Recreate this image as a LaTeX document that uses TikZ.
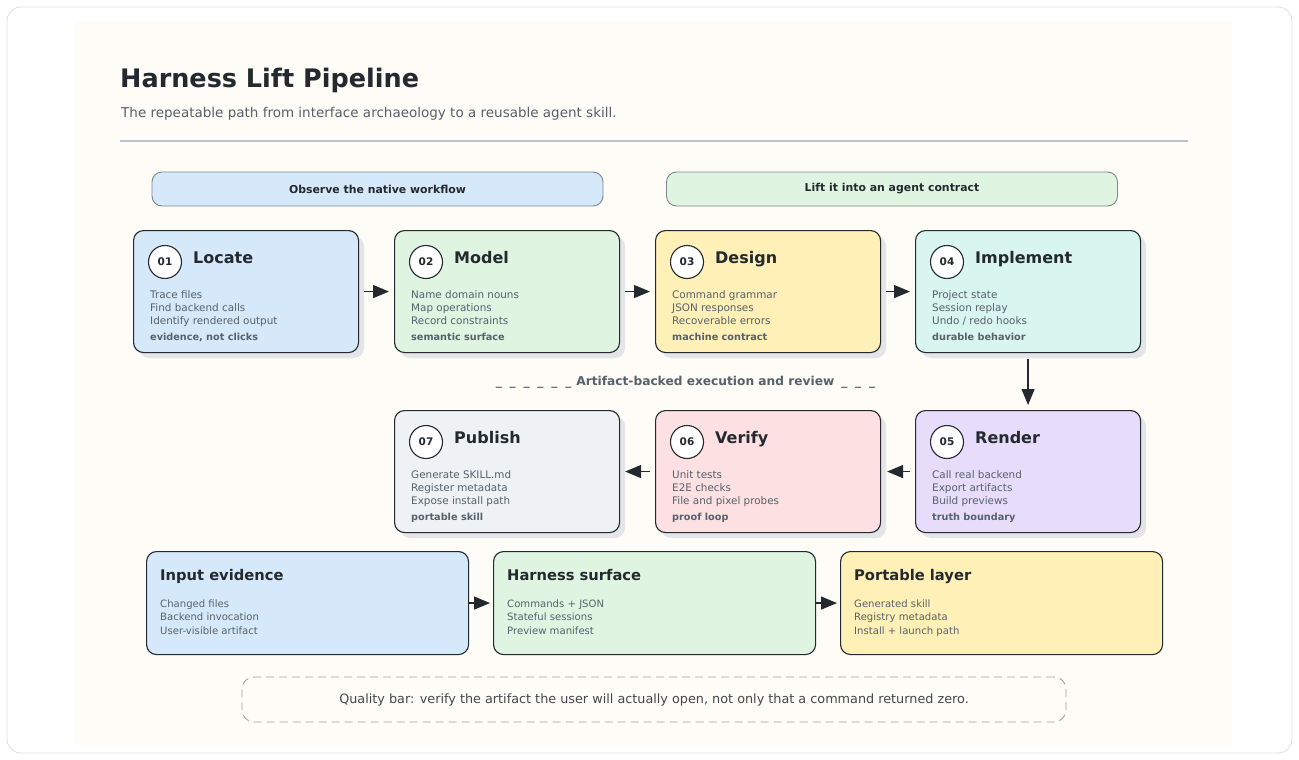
\documentclass[tikz,border=0pt]{standalone}
\usepackage{fontspec}
\setmainfont{DejaVu Sans}
\usetikzlibrary{arrows.meta,calc}

\definecolor{ink}{HTML}{23292E}
\definecolor{muted}{HTML}{56616B}
\definecolor{cardedge}{HTML}{DDE2EA}
\definecolor{cream}{HTML}{FDFCF6}
\definecolor{rulec}{HTML}{BCC3C9}
\definecolor{bannerline}{HTML}{7D868E}
\definecolor{dashc}{HTML}{9AA2A9}
\definecolor{shadowc}{HTML}{E3E5E8}
\definecolor{cBlue}{HTML}{D6E9FB}
\definecolor{cGreen}{HTML}{DFF5E1}
\definecolor{cYellow}{HTML}{FFF0B8}
\definecolor{cMint}{HTML}{D9F5EF}
\definecolor{cLav}{HTML}{E7DDFB}
\definecolor{cPink}{HTML}{FDE0E2}
\definecolor{cGray}{HTML}{EEF2F5}

\newcommand\fsz[1]{\fontsize{#1}{#1}\selectfont}
\newcommand\us{\_\hspace{7.8pt}}

\tikzset{
  card/.style={draw=ink, line width=1.1pt, rounded corners=10pt, inner sep=0pt, anchor=north west},
  numcirc/.style={circle, draw=ink, fill=white, line width=1.1pt, minimum size=33pt, inner sep=0pt, text=ink, font=\fsz{10.5}\bfseries},
  cardtitle/.style={anchor=base west, inner sep=0pt, text=ink, font=\fsz{16}\bfseries},
  bodyline/.style={anchor=base west, inner sep=0pt, text=muted, font=\fsz{10.4}},
  layerline/.style={anchor=base west, inner sep=0pt, text=muted, font=\fsz{10.1}},
  cardtag/.style={anchor=base west, inner sep=0pt, text=muted, font=\fsz{9.7}\bfseries},
  banner/.style={draw=bannerline, line width=0.9pt, rounded corners=10pt, minimum width=451pt, minimum height=34pt, inner sep=0pt, text=ink, font=\fsz{10.9}\bfseries},
  layertitle/.style={anchor=base west, inner sep=0pt, text=ink, font=\fsz{14.7}\bfseries},
  arr/.style={draw=ink, line width=1.2pt, -{Triangle[length=16pt,width=13pt]}},
}

\newcommand\stepcard[6]{%
  \fill[shadowc, rounded corners=10pt] (#2+6,#3+6) rectangle ++(225,122);
  \node[card, fill=#4, minimum width=225pt, minimum height=122pt] (#1) at (#2,#3) {};
  \node[numcirc] (#1num) at ($(#1.north west)+(32,32)$) {#5};
  \node[cardtitle] (#1title) at ($(#1.north west)+(60,33.3)$) {#6};
}
\newcommand\steptext[5]{%
  \node[bodyline] (#1la) at ($(#1.north west)+(17,68.5)$) {#2};
  \node[bodyline] (#1lb) at ($(#1.north west)+(17,81.5)$) {#3};
  \node[bodyline] (#1lc) at ($(#1.north west)+(17,94.5)$) {#4};
  \node[cardtag] (#1tag) at ($(#1.north west)+(17,110.5)$) {#5};
}
\newcommand\layercard[8]{%
  \node[card, fill=#4, minimum width=322pt, minimum height=103pt] (#1) at (#2,#3) {};
  \node[layertitle] (#1title) at ($(#1.north west)+(14,29.5)$) {#5};
  \node[layerline] (#1la) at ($(#1.north west)+(14,56)$) {#6};
  \node[layerline] (#1lb) at ($(#1.north west)+(14,69.5)$) {#7};
  \node[layerline] (#1lc) at ($(#1.north west)+(14,83)$) {#8};
}

\begin{document}
\begin{tikzpicture}[x=1pt,y=-1pt]
\useasboundingbox (0,0) rectangle (1299,760);
\fill[white] (0,0) rectangle (1299,760);
\draw[draw=cardedge, fill=white, line width=0.9pt, rounded corners=14pt] (7,7) rectangle (1292,753);
\fill[cream] (75,22) rectangle (1233,745);

% header
\node[anchor=base west, inner sep=0pt, text=ink, font=\fsz{25.5}\bfseries] (title) at (120,87.5) {Harness Lift Pipeline};
\node[anchor=base west, inner sep=0pt, text=muted, font=\fsz{13.5}] (subtitle) at (121,117.5) {The repeatable path from interface archaeology to a reusable agent skill.};
\draw[rulec, line width=1.2pt] (120,141) -- (1188,141);

% phase banners
\node[banner, fill=cBlue] (phaseA) at (377.5,189) {Observe the native workflow};
\node[banner, fill=cGreen] (phaseB) at (892,189) {Lift it into an agent contract};

% row 1
\stepcard{s1}{133}{230}{cBlue}{01}{Locate}
\steptext{s1}{Trace files}{Find backend calls}{Identify rendered output}{evidence, not clicks}
\stepcard{s2}{394}{230}{cGreen}{02}{Model}
\steptext{s2}{Name domain nouns}{Map operations}{Record constraints}{semantic surface}
\stepcard{s3}{655}{230}{cYellow}{03}{Design}
\steptext{s3}{Command grammar}{JSON responses}{Recoverable errors}{machine contract}
\stepcard{s4}{915}{230}{cMint}{04}{Implement}
\steptext{s4}{Project state}{Session replay}{Undo / redo hooks}{durable behavior}

% row 2
\stepcard{s7}{394}{410}{cGray}{07}{Publish}
\steptext{s7}{Generate SKILL.md}{Register metadata}{Expose install path}{portable skill}
\stepcard{s6}{655}{410}{cPink}{06}{Verify}
\steptext{s6}{Unit tests}{E2E checks}{File and pixel probes}{proof loop}
\stepcard{s5}{915}{410}{cLav}{05}{Render}
\steptext{s5}{Call real backend}{Export artifacts}{Build previews}{truth boundary}

% flow label
\node[inner sep=0pt, text=muted, font=\fsz{12.2}\bfseries] (flowlabel) at (685.5,382) {\us\us\us\us\us\_\hspace{5pt}Artifact-backed execution and review\hspace{7pt}\us\us\_};

% arrows
\draw[arr] ([xshift=5pt]s1.east) -- ([xshift=-5pt]s2.west);
\draw[arr] ([xshift=5pt]s2.east) -- ([xshift=-5pt]s3.west);
\draw[arr] ([xshift=5pt]s3.east) -- ([xshift=-5pt]s4.west);
\draw[arr] ([yshift=-6pt]s4.south) -- ([yshift=5pt]s5.north);
\draw[arr] ([xshift=-5pt]s5.west) -- ([xshift=6pt]s6.east);
\draw[arr] ([xshift=-5pt]s6.west) -- ([xshift=5pt]s7.east);

% layers
\layercard{b1}{146}{551}{cBlue}{Input evidence}{Changed files}{Backend invocation}{User-visible artifact}
\layercard{b2}{493}{551}{cGreen}{Harness surface}{Commands + JSON}{Stateful sessions}{Preview manifest}
\layercard{b3}{840}{551}{cYellow}{Portable layer}{Generated skill}{Registry metadata}{Install + launch path}
\draw[arr] (b1.east) -- ([xshift=-3pt]b2.west);
\draw[arr] (b2.east) -- ([xshift=-3pt]b3.west);

% quality bar
\node[draw=dashc, dash pattern=on 8pt off 5pt, line width=0.9pt, rounded corners=12pt, minimum width=824pt, minimum height=45pt, inner sep=0pt, text=ink!85, font=\fsz{12.8}] (quality) at (654,699.5) {Quality bar: verify the artifact the user will actually open, not only that a command returned zero.};
\end{tikzpicture}
\end{document}
